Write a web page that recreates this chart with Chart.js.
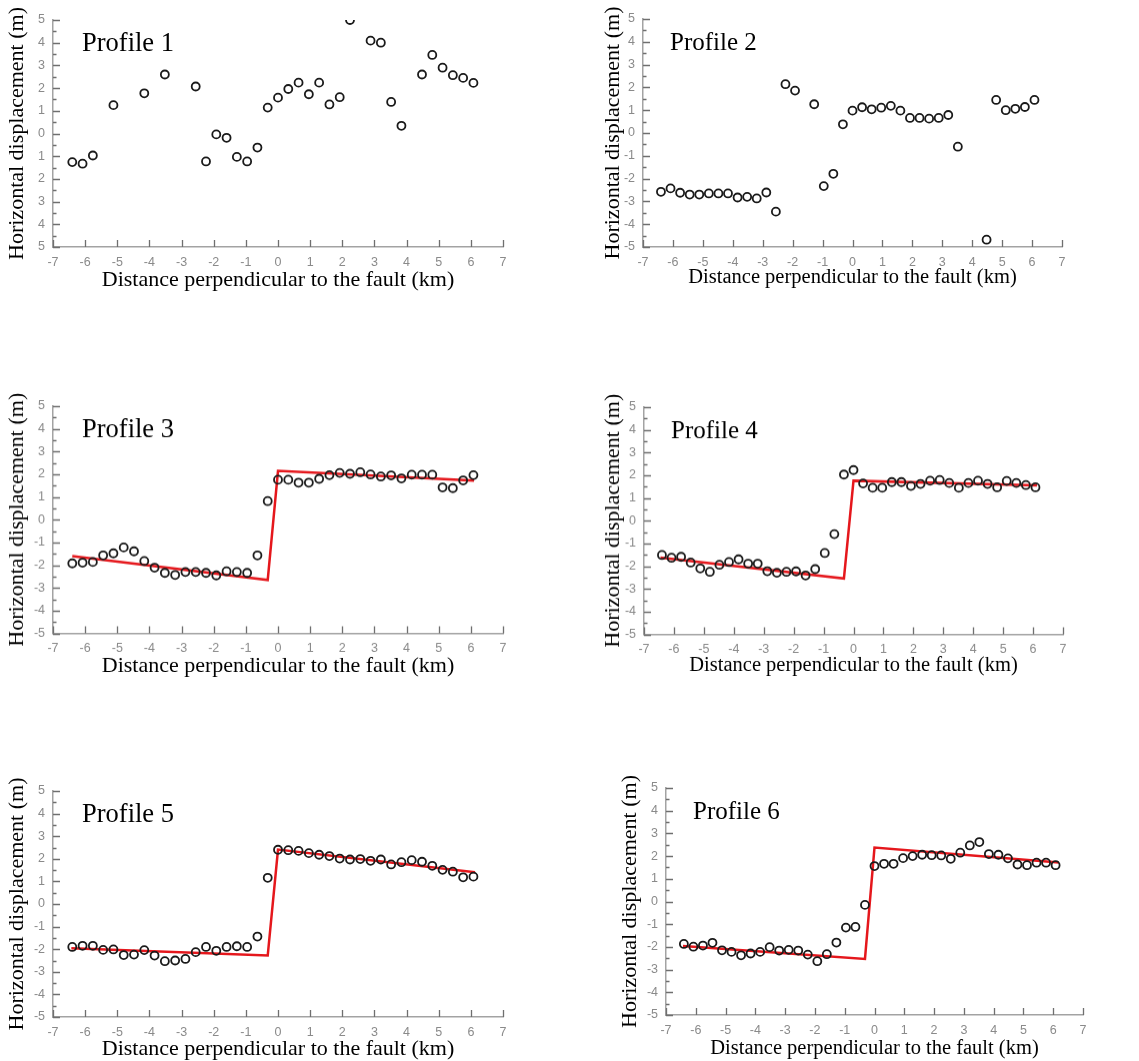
<!DOCTYPE html>
<html>
<head>
<meta charset="utf-8">
<title>Horizontal displacement profiles</title>
<script src="https://cdn.jsdelivr.net/npm/chart.js@4.4.1/dist/chart.umd.min.js"></script>
<style>
  html, body { margin: 0; padding: 0; background: #fff; overflow: hidden; }
  body { width: 1139px; height: 1061px; position: relative; }
  canvas { position: absolute; }
</style>
</head>
<body>
<canvas id="p1"></canvas>
<canvas id="p2"></canvas>
<canvas id="p3"></canvas>
<canvas id="p4"></canvas>
<canvas id="p5"></canvas>
<canvas id="p6"></canvas>
<script>
// --- DATA ---
// sample positions along each profile (km), null = no sample
const distanceKm = [-6.4, -6.08, -5.76, -5.44, -5.12, -4.8, -4.48, -4.16, -3.84, -3.52,
  -3.2, -2.88, -2.56, -2.24, -1.92, -1.6, -1.28, -0.96, -0.64, -0.32,
  0, 0.32, 0.64, 0.96, 1.28, 1.6, 1.92, 2.24, 2.56, 2.88,
  3.2, 3.52, 3.84, 4.16, 4.48, 4.8, 5.12, 5.44, 5.76, 6.08];

const profile1Disp = [-1.26, -1.33, -0.97, null, 1.25, null, null, 1.77, null, 2.6,
  null, null, 2.07, -1.23, -0.04, -0.19, -1.03, -1.23, -0.62, 1.14,
  1.58, 1.96, 2.24, 1.73, 2.24, 1.28, 1.6, 5.0, null, 4.09,
  4.0, 1.39, 0.34, null, 2.6, 3.46, 2.9, 2.57, 2.45, 2.23];

const profile2Disp = [-2.58, -2.43, -2.62, -2.7, -2.7, -2.65, -2.65, -2.65, -2.83, -2.8,
  -2.87, -2.61, -3.45, 2.14, 1.86, null, 1.26, -2.33, -1.79, 0.38,
  0.98, 1.13, 1.04, 1.11, 1.19, 0.98, 0.66, 0.66, 0.63, 0.66,
  0.79, -0.6, null, null, -4.68, 1.45, 1.0, 1.06, 1.14, 1.45];

const profile3Disp = [-1.92, -1.89, -1.86, -1.57, -1.48, -1.22, -1.39, -1.82, -2.11, -2.34,
  -2.43, -2.3, -2.3, -2.34, -2.45, -2.27, -2.3, -2.34, -1.57, 0.82,
  1.76, 1.76, 1.63, 1.63, 1.8, 1.96, 2.06, 2.02, 2.09, 1.99,
  1.9, 1.95, 1.82, 1.98, 1.98, 1.98, 1.42, 1.39, 1.73, 1.96];

const profile4Disp = [-1.51, -1.63, -1.59, -1.84, -2.1, -2.25, -1.94, -1.82, -1.7, -1.89,
  -1.89, -2.22, -2.29, -2.25, -2.23, -2.41, -2.13, -1.42, -0.59, 2.03,
  2.23, 1.64, 1.45, 1.45, 1.7, 1.7, 1.53, 1.62, 1.76, 1.79,
  1.66, 1.45, 1.66, 1.76, 1.62, 1.47, 1.75, 1.66, 1.57, 1.47];

const profile5Disp = [-1.9, -1.85, -1.85, -2.03, -2.01, -2.26, -2.24, -2.04, -2.28, -2.53,
  -2.5, -2.43, -2.13, -1.9, -2.07, -1.9, -1.87, -1.9, -1.44, 1.16,
  2.4, 2.38, 2.35, 2.25, 2.18, 2.12, 2.01, 1.97, 1.99, 1.91,
  1.97, 1.75, 1.85, 1.94, 1.87, 1.69, 1.51, 1.43, 1.18, 1.21];

const profile6Disp = [-1.87, -1.99, -1.94, -1.82, -2.15, -2.22, -2.37, -2.29, -2.22, -2.01,
  -2.16, -2.13, -2.16, -2.34, -2.63, -2.32, -1.81, -1.15, -1.12, -0.15,
  1.56, 1.66, 1.66, 1.91, 2.0, 2.06, 2.04, 2.03, 1.88, 2.15,
  2.47, 2.62, 2.09, 2.06, 1.9, 1.63, 1.6, 1.71, 1.71, 1.6];

// fitted fault model (red lines)
const profile3FitKm = [-6.4, -0.32, 0, 6.1];
const profile3FitDisp = [-1.6, -2.65, 2.15, 1.72];
const profile4FitKm = [-6.45, -0.32, 0, 6.13];
const profile4FitDisp = [-1.62, -2.54, 1.76, 1.56];
const profile5FitKm = [-6.43, -0.32, 0, 6.13];
const profile5FitDisp = [-1.96, -2.28, 2.41, 1.4];
const profile6FitKm = [-6.43, -0.32, 0, 6.19];
const profile6FitDisp = [-1.96, -2.53, 2.38, 1.72];

const xTitle = 'Distance perpendicular to the fault (km)';
const yTitle = 'Horizontal displacement (m)';

// --- LAYOUT (page pixels) ---
const panels = [
  { id: 'p1', name: 'Profile 1', disp: profile1Disp, col: 0, area: [53, 20, 503, 247], xTitleY: 280, yTitleX: 17.5, absLabels: true },
  { id: 'p2', name: 'Profile 2', disp: profile2Disp, col: 1, area: [643, 19, 1062, 247], xTitleY: 278, yTitleX: 613 },
  { id: 'p3', name: 'Profile 3', disp: profile3Disp, fitKm: profile3FitKm, fitDisp: profile3FitDisp, col: 0, area: [53, 406, 503, 633], xTitleY: 665.5, yTitleX: 17.5 },
  { id: 'p4', name: 'Profile 4', disp: profile4Disp, fitKm: profile4FitKm, fitDisp: profile4FitDisp, col: 1, area: [644, 407, 1063, 634], xTitleY: 665.5, yTitleX: 613 },
  { id: 'p5', name: 'Profile 5', disp: profile5Disp, fitKm: profile5FitKm, fitDisp: profile5FitDisp, col: 0, area: [53, 791, 503, 1017], xTitleY: 1049, yTitleX: 17.5 },
  { id: 'p6', name: 'Profile 6', disp: profile6Disp, fitKm: profile6FitKm, fitDisp: profile6FitDisp, col: 1, area: [666, 788, 1083, 1015], xTitleY: 1049, yTitleX: 630 }
];
const colLeft = [0, 570];
const colWidth = [540, 569];
const serif = '"Liberation Serif", "Times New Roman", serif';
const sans = '"Liberation Sans", Arial, sans-serif';

// ticks drawn inside the axes, minor ticks on y at half steps
const inwardTicks = {
  id: 'inwardTicks',
  afterDraw(chart) {
    const { ctx, chartArea: a, scales: { x, y } } = chart;
    ctx.save();
    ctx.strokeStyle = '#6f6f6f';
    ctx.lineWidth = 1.3;
    ctx.beginPath();
    x.ticks.forEach(t => {
      const px = Math.round(x.getPixelForValue(t.value)) + 0.5;
      ctx.moveTo(px, a.bottom);
      ctx.lineTo(px, a.bottom - 7);
    });
    y.ticks.forEach((t, i) => {
      const py = Math.round(y.getPixelForValue(t.value)) + 0.5;
      ctx.moveTo(a.left, py);
      ctx.lineTo(a.left + 7, py);
      if (i > 0) {
        const pm = Math.round(y.getPixelForValue((t.value + y.ticks[i - 1].value) / 2)) + 0.5;
        ctx.moveTo(a.left, pm);
        ctx.lineTo(a.left + 3.5, pm);
      }
    });
    ctx.stroke();
    ctx.restore();
  }
};

const profileLabel = {
  id: 'profileLabel',
  afterDraw(chart, args, opts) {
    const { ctx, chartArea: a } = chart;
    ctx.save();
    ctx.font = opts.font;
    ctx.fillStyle = '#000';
    ctx.textBaseline = 'alphabetic';
    ctx.fillText(opts.text, a.left + opts.dx, a.top + opts.dy);
    ctx.restore();
  }
};

panels.forEach(p => {
  const left = colLeft[p.col];
  const width = colWidth[p.col];
  const top = p.area[1] - 20;
  const bottom = p.xTitleY + 20;
  const height = bottom - top;
  const xTitleSize = p.col === 0 ? 22 : 20.5;
  const yTitleSize = 22;

  const canvas = document.getElementById(p.id);
  canvas.width = width;
  canvas.height = height;
  canvas.style.left = left + 'px';
  canvas.style.top = top + 'px';
  canvas.style.width = width + 'px';
  canvas.style.height = height + 'px';

  const points = [];
  distanceKm.forEach((km, i) => {
    if (p.disp[i] !== null) points.push({ x: km, y: p.disp[i] });
  });

  const datasets = [{
    data: points,
    showLine: false,
    pointStyle: 'circle',
    pointRadius: 4,
    pointBorderWidth: 1.8,
    pointBorderColor: '#1a1a1a',
    pointBackgroundColor: 'rgba(0,0,0,0)'
  }];
  if (p.fitKm) {
    datasets.push({
      data: p.fitKm.map((km, i) => ({ x: km, y: p.fitDisp[i] })),
      showLine: true,
      borderColor: '#e5171c',
      borderWidth: 2.5,
      pointRadius: 0,
      tension: 0
    });
  }

  const tickFont = { family: sans, size: 12.5 };
  new Chart(canvas, {
    type: 'scatter',
    data: { datasets },
    options: {
      responsive: false,
      animation: false,
      devicePixelRatio: 1,
      events: [],
      layout: { padding: { left: 0, top: 20, right: width - (p.area[2] - left), bottom: 0 } },
      plugins: {
        legend: { display: false },
        tooltip: { enabled: false },
        profileLabel: {
          text: p.name,
          font: (p.col === 0 ? 26.5 : 25) + 'px ' + serif,
          dx: p.col === 0 ? 29 : 27,
          dy: 31
        }
      },
      scales: {
        x: {
          type: 'linear',
          position: 'bottom',
          min: -7, max: 7,
          ticks: { stepSize: 1, color: '#8a8a8a', font: tickFont, padding: 8, maxRotation: 0, autoSkip: false },
          grid: { drawOnChartArea: false, drawTicks: false },
          border: { color: '#a3a3a3', width: 1.5 },
          title: {
            display: true, text: xTitle, color: '#000',
            font: { family: serif, size: xTitleSize },
            padding: { top: 0, bottom: 20 - xTitleSize * 0.6 }
          },
          afterFit: s => { s.height = bottom - p.area[3]; }
        },
        y: {
          type: 'linear',
          position: 'left',
          min: -5, max: 5,
          ticks: {
            stepSize: 1, color: '#8a8a8a', font: tickFont, padding: 8,
            callback: v => p.absLabels ? String(Math.abs(v)) : String(v)
          },
          grid: { drawOnChartArea: false, drawTicks: false },
          border: { color: '#a3a3a3', width: 1.5 },
          title: {
            display: true, text: yTitle, color: '#000',
            font: { family: serif, size: yTitleSize },
            padding: { top: p.yTitleX - left - yTitleSize * 0.6, bottom: 0 }
          },
          afterFit: s => { s.width = p.area[0] - left; }
        }
      }
    },
    plugins: [inwardTicks, profileLabel]
  });
});
</script>
</body>
</html>
